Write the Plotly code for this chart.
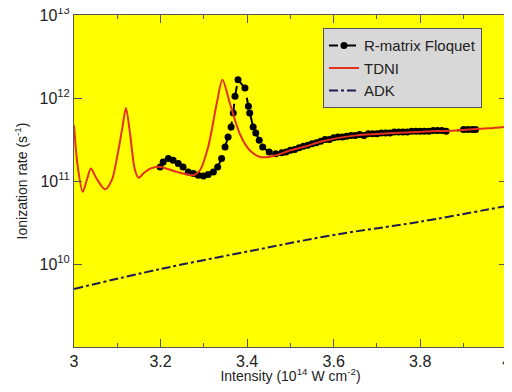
import plotly.graph_objects as go

# ---- data (log10 of ionization rate in s^-1) ----
tdni_x = [3.000, 3.008, 3.020, 3.030, 3.039, 3.052, 3.072, 3.088, 3.100, 3.112, 3.120,
          3.130, 3.140, 3.149, 3.162, 3.176, 3.199, 3.237, 3.276, 3.291, 3.310, 3.330,
          3.343, 3.360, 3.383, 3.406, 3.430, 3.450, 3.467, 3.500, 3.536, 3.574, 3.651,
          3.728, 3.805, 3.882, 3.959, 4.000]
tdni_log = [11.67, 11.20, 10.87, 11.02, 11.15, 11.03, 10.90, 11.02, 11.30, 11.65, 11.88,
            11.55, 11.15, 11.04, 11.10, 11.15, 11.17, 11.11, 11.07, 11.13, 11.41, 11.94,
            12.22, 11.94, 11.57, 11.37, 11.29, 11.29, 11.31, 11.37, 11.42, 11.48, 11.55,
            11.575, 11.595, 11.61, 11.635, 11.655]

rmf_x = [3.199, 3.206, 3.218, 3.229, 3.241, 3.252, 3.264, 3.276, 3.287, 3.299, 3.310,
         3.322, 3.332, 3.341, 3.349, 3.356, 3.363, 3.368, 3.372, 3.379, 3.395, 3.403,
         3.406, 3.414, 3.420, 3.428, 3.436, 3.451, 3.466, 3.480, 3.490, 3.500, 3.510,
         3.520, 3.530, 3.540, 3.550, 3.560, 3.570, 3.580, 3.590, 3.600, 3.610, 3.620,
         3.630, 3.640, 3.650, 3.660, 3.670, 3.680, 3.690, 3.700, 3.710, 3.720, 3.730,
         3.740, 3.750, 3.760, 3.770, 3.780, 3.790, 3.800, 3.810, 3.820, 3.830, 3.840,
         3.850, 3.860, 3.900, 3.910, 3.920, 3.928]
rmf_log = [11.17, 11.23, 11.27, 11.25, 11.21, 11.17, 11.11, 11.09, 11.07, 11.06, 11.08,
           11.11, 11.17, 11.27, 11.41, 11.53, 11.65, 11.82, 12.02, 12.22, 12.12, 11.90,
           11.82, 11.65, 11.58, 11.49, 11.41, 11.35, 11.33, 11.34, 11.35, 11.37, 11.38,
           11.40, 11.42, 11.43, 11.45, 11.46, 11.48, 11.50, 11.50, 11.52, 11.53, 11.53,
           11.54, 11.55, 11.55, 11.56, 11.55, 11.57, 11.57, 11.57, 11.58, 11.58, 11.58,
           11.59, 11.59, 11.59, 11.59, 11.60, 11.60, 11.60, 11.60, 11.60, 11.61, 11.61,
           11.61, 11.60, 11.62, 11.62, 11.62, 11.62]

adk_x = [3.0, 3.2, 3.42, 3.6, 3.8, 4.0]
adk_log = [9.70, 9.94, 10.17, 10.35, 10.51, 10.70]

y_tickvals_exp = [10, 11, 12, 13]
x_tickvals = [3, 3.2, 3.4, 3.6, 3.8, 4]
x_ticktext = ["3", "3.2", "3.4", "3.6", "3.8", "4"]

FONT = "Liberation Sans, Arial, Helvetica, sans-serif"

fig = go.Figure()
fig.add_trace(go.Scatter(
    x=rmf_x, y=[10 ** v for v in rmf_log], name="R-matrix Floquet",
    mode="lines+markers", line=dict(color="black", width=2, dash="dash"),
    marker=dict(color="black", size=7)))
fig.add_trace(go.Scatter(
    x=tdni_x, y=[10 ** v for v in tdni_log], name="TDNI", mode="lines",
    line=dict(color="#e2321e", width=2, shape="spline", smoothing=0.8)))
fig.add_trace(go.Scatter(
    x=adk_x, y=[10 ** v for v in adk_log], name="ADK", mode="lines",
    line=dict(color="#1c1c50", width=2, dash="dashdot", shape="spline")))

axis_common = dict(showline=True, linecolor="#555555", linewidth=1, mirror="ticks",
                   ticks="inside", tickcolor="#555555", showgrid=False, zeroline=False,
                   automargin=False, ticklabeloverflow="allow",
                   tickfont=dict(family=FONT, size=16, color="#222222"))

fig.update_xaxes(range=[3, 4.0005], tickvals=x_tickvals, ticktext=x_ticktext, ticklen=8,
                 minor=dict(dtick=0.1, ticks="inside", ticklen=4, tickcolor="#555555"),
                 title=dict(text="Intensity (10<sup>14</sup> W cm<sup>-2</sup>)",
                            font=dict(family=FONT, size=14, color="#222222"), standoff=5),
                 **axis_common)
fig.update_yaxes(type="log", range=[9, 13.0005], tickvals=[10 ** e for e in y_tickvals_exp],
                 ticktext=["10<sup>%d</sup>" % e for e in y_tickvals_exp], ticklen=8,
                 title=dict(text="Ionization rate (s<sup>-1</sup>)",
                            font=dict(family=FONT, size=14, color="#222222"), standoff=8),
                 **axis_common)

# page body has an 8px margin on every side: size the figure so the page does not scroll
fig.update_layout(
    width=504, height=376, margin=dict(l=66, r=5, t=7, b=37),
    paper_bgcolor="white", plot_bgcolor="#ffff00",
    font=dict(family=FONT),
    legend=dict(x=0.575, y=0.96, xanchor="left", yanchor="top",
                bgcolor="#d8d8d8", bordercolor="#555555", borderwidth=1,
                font=dict(family=FONT, size=15, color="#222222"),
                tracegroupgap=0, itemwidth=30),
)

fig.write_html("out.html")
